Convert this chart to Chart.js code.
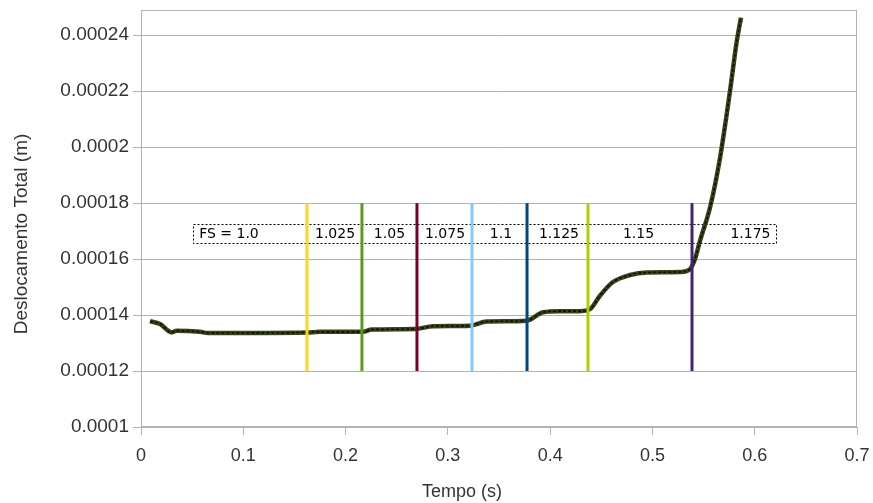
<!DOCTYPE html>
<html><head><meta charset="utf-8">
<script src="https://cdn.jsdelivr.net/npm/chart.js@4"></script>
<style>html,body{margin:0;padding:0;background:#fff}</style>
</head><body>
<canvas id="c" width="873" height="503"></canvas>
<script>
// ---- data ----
const timeS = [0.0088, 0.0186, 0.030, 0.0349, 0.0577, 0.0655, 0.1623, 0.175, 0.217, 0.2256, 0.2679, 0.2855, 0.3217, 0.338, 0.3771, 0.393, 0.4097, 0.4292, 0.439, 0.4487, 0.4614, 0.4781, 0.4944, 0.5269, 0.5367, 0.5416, 0.5465, 0.5563, 0.5661, 0.5758, 0.5824, 0.5866];
const displacement = [0.0001378, 0.0001368, 0.0001338, 0.0001344, 0.000134, 0.0001336, 0.0001338, 0.000134, 0.000134, 0.0001348, 0.000135, 0.000136, 0.0001362, 0.0001377, 0.000138, 0.000141, 0.0001414, 0.0001414, 0.0001421, 0.0001469, 0.0001518, 0.0001543, 0.0001552, 0.0001554, 0.0001564, 0.00016, 0.0001665, 0.0001784, 0.0001962, 0.0002199, 0.0002377, 0.0002463];
const fsLineTimes = [0.1623, 0.216, 0.2698, 0.3236, 0.3774, 0.437, 0.5387];
const fsLineColors = ['#ffd320', '#579d1c', '#7e0021', '#83caff', '#004586', '#aecf00', '#4b1f6f'];
const fsLineRange = [0.00012, 0.00018];
const fsLabels = ['FS = 1.0', '1.025', '1.05', '1.075', '1.1', '1.125', '1.15', '1.175'];
const fsLabelTimes = [0.0860, 0.1897, 0.2429, 0.2972, 0.3519, 0.4086, 0.4864, 0.5958];
const fsLabelValue = 0.0001688;
const fsBoxTimes = [0.0508, 0.6208];
const fsBoxValues = [0.0001657, 0.0001725];
const yTicks = [0.0001, 0.00012, 0.00014, 0.00016, 0.00018, 0.0002, 0.00022, 0.00024];
const xTicks = [0, 0.1, 0.2, 0.3, 0.4, 0.5, 0.6, 0.7];
const xTitle = 'Tempo (s)';
const yTitle = 'Deslocamento Total (m)';

const curvePts = timeS.map((t, i) => ({x: t, y: displacement[i]}));
const datasets = [];
fsLineTimes.forEach((t, i) => {
  datasets.push({
    data: [{x: t, y: fsLineRange[0]}, {x: t, y: fsLineRange[1]}],
    borderColor: fsLineColors[i], borderWidth: 3, showLine: true, pointRadius: 0, order: 0
  });
});
datasets.push({data: curvePts, borderColor: '#0e1005', borderWidth: 1.6, borderDash: [3, 2],
  showLine: true, pointRadius: 0, cubicInterpolationMode: 'monotone', order: 1});
datasets.push({data: curvePts, borderColor: '#37431a', borderWidth: 4.5,
  showLine: true, pointRadius: 0, cubicInterpolationMode: 'monotone', order: 2});

const annot = {
  id: 'annot',
  beforeDatasetsDraw(chart) {
    const {ctx, scales: {x, y}} = chart;
    ctx.save();
    ctx.strokeStyle = '#000'; ctx.lineWidth = 1; ctx.setLineDash([2, 2]);
    const l = x.getPixelForValue(fsBoxTimes[0]), r = x.getPixelForValue(fsBoxTimes[1]);
    const tp = y.getPixelForValue(fsBoxValues[1]), bt = y.getPixelForValue(fsBoxValues[0]);
    ctx.strokeRect(Math.round(l) + 0.5, Math.round(tp) + 0.5, Math.round(r - l), Math.round(bt - tp));
    ctx.setLineDash([]);
    ctx.fillStyle = '#000'; ctx.font = '14px "DejaVu Sans"';
    ctx.textAlign = 'center'; ctx.textBaseline = 'middle';
    fsLabels.forEach((s, i) => ctx.fillText(s, x.getPixelForValue(fsLabelTimes[i]), y.getPixelForValue(fsLabelValue)));
    ctx.restore();
  },
  afterDraw(chart) {
    const {ctx, chartArea: a} = chart;
    ctx.save();
    ctx.strokeStyle = '#b3b3b3'; ctx.lineWidth = 1;
    ctx.strokeRect(Math.round(a.left) + 0.5, Math.round(a.top) + 0.5, Math.round(a.right - a.left) - 1, Math.round(a.bottom - a.top) - 1);
    ctx.fillStyle = '#333';
    ctx.textAlign = 'center'; ctx.textBaseline = 'middle';
    ctx.font = '18px "Liberation Sans"';
    ctx.fillText(xTitle, a.left + 321, a.bottom + 65);
    ctx.font = '19px "Liberation Sans"';
    ctx.translate(a.left - 119, a.top + 224);
    ctx.rotate(-Math.PI / 2);
    ctx.fillText(yTitle, 0, 0);
    ctx.restore();
  }
};

new Chart(document.getElementById('c'), {
  type: 'scatter',
  data: {datasets},
  options: {
    responsive: false, animation: false, devicePixelRatio: 1,
    layout: {padding: {top: 10, right: 16, left: 0, bottom: 0}},
    plugins: {legend: {display: false}, tooltip: {enabled: false}},
    scales: {
      x: {
        type: 'linear', min: 0, max: 0.7,
        afterBuildTicks: s => { s.ticks = xTicks.map(v => ({value: v})); },
        afterFit: s => { s.height = 76; s.paddingLeft = 0; s.paddingRight = 0; },
        grid: {drawOnChartArea: false, drawTicks: true, tickLength: 8, color: '#b3b3b3'},
        border: {color: '#b3b3b3'},
        ticks: {color: '#333', font: {family: 'Liberation Sans', size: 18}, padding: 10, maxRotation: 0,
          callback: v => parseFloat(Number(v).toFixed(2)).toString()}
      },
      y: {
        type: 'linear', min: 0.0001, max: 0.000249,
        afterBuildTicks: s => { s.ticks = yTicks.map(v => ({value: v})); },
        afterFit: s => { s.width = 141; s.paddingTop = 0; s.paddingBottom = 0; },
        grid: {color: '#b3b3b3', tickLength: 8},
        border: {color: '#b3b3b3'},
        ticks: {color: '#333', font: {family: 'Liberation Sans', size: 19}, padding: 4,
          callback: v => parseFloat(Number(v).toFixed(6)).toString()}
      }
    }
  },
  plugins: [annot]
});
</script>
</body></html>
